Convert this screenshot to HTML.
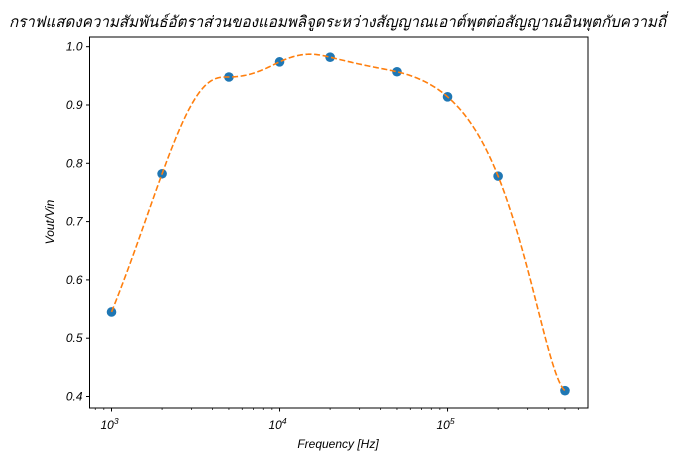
<!DOCTYPE html>
<html><head><meta charset="utf-8"><style>
body{margin:0;background:#fff}
svg text{font-family:"Liberation Sans","DejaVu Sans",sans-serif;font-style:italic}
</style></head><body>
<svg id="c" width="673" height="462" xmlns="http://www.w3.org/2000/svg">
<text x="9" y="27" textLength="657" lengthAdjust="spacingAndGlyphs" font-size="15.5" fill="#000">กราฟแสดงความสัมพันธ์อัตราส่วนของแอมพลิจูดระหว่างสัญญาณเอาต์พุตต่อสัญญาณอินพุตกับความถี่</text>
<g id="ticks"></g>
<g id="marks"></g>
<rect x="89.5" y="37" width="498.5" height="371" fill="none" stroke="#000" stroke-width="1"/>
<text x="338" y="448" text-anchor="middle" font-size="12">Frequency [Hz]</text>
<text transform="translate(54,222) rotate(-90)" text-anchor="middle" font-size="12">Vout/Vin</text>
</svg>
<script>
const freqs=[1e3,2e3,5e3,1e4,2e4,5e4,1e5,2e5,5e5];
const ratios=[0.545,0.782,0.948,0.974,0.982,0.957,0.914,0.778,0.41];
const yTicks=[0.4,0.5,0.6,0.7,0.8,0.9,1.0];
const xDecades=[3,4,5];
const NS='http://www.w3.org/2000/svg';
const L=89.5,R=588,T=37,B=408,xmin=2.869,xmax=5.836,ymin=0.3803,ymax=1.0166;
const sx=v=>L+(Math.log10(v)-xmin)/(xmax-xmin)*(R-L);
const sxl=l=>L+(l-xmin)/(xmax-xmin)*(R-L);
const sy=v=>B-(v-ymin)/(ymax-ymin)*(B-T);
function mk(t,a,p){const e=document.createElementNS(NS,t);for(const k in a)e.setAttribute(k,a[k]);p.appendChild(e);return e;}
const tg=document.getElementById('ticks'),mg=document.getElementById('marks');
yTicks.forEach(v=>{const y=sy(v);
 const l=mk('line',{x1:L-3.5,x2:L,y1:y,y2:y,stroke:'#000'},tg);
 
 
 const t=mk('text',{x:L-7,y:y+4,'text-anchor':'end','font-size':'12'},tg);t.textContent=v.toFixed(1);
 
 
});
for(let d=2;d<=5;d++)for(let m=1;m<10;m++){const l10=d+Math.log10(m);if(l10<xmin||l10>xmax)continue;
 const x=sxl(l10);const len=m==1?3.5:2;
 const l=mk('line',{x1:x,x2:x,y1:B,y2:B+len,stroke:'#000','stroke-width':m==1?1:0.7},tg);
 
 }
xDecades.forEach(d=>{const x=sxl(d);
 const t=mk('text',{x:x-2,y:B+21,'text-anchor':'middle','font-size':'12'},tg);
 t.innerHTML='10<tspan dy="-5" font-size="8.5">'+d+'</tspan>';
 
 });
// not-a-knot cubic spline in linear frequency (scaled)
const X=freqs.map(f=>f/1e3),Y=ratios,n=X.length,h=[];
for(let i=0;i<n-1;i++)h.push(X[i+1]-X[i]);
const A=[],rhs=[];
for(let i=0;i<n;i++){A.push(new Array(n).fill(0));rhs.push(0);}
A[0][0]=h[1];A[0][1]=-(h[0]+h[1]);A[0][2]=h[0];
for(let i=1;i<n-1;i++){A[i][i-1]=h[i-1];A[i][i]=2*(h[i-1]+h[i]);A[i][i+1]=h[i];
 rhs[i]=6*((Y[i+1]-Y[i])/h[i]-(Y[i]-Y[i-1])/h[i-1]);}
A[n-1][n-3]=h[n-2];A[n-1][n-2]=-(h[n-3]+h[n-2]);A[n-1][n-1]=h[n-3];
for(let k=0;k<n;k++){let p=k;for(let i=k+1;i<n;i++)if(Math.abs(A[i][k])>Math.abs(A[p][k]))p=i;
 [A[k],A[p]]=[A[p],A[k]];[rhs[k],rhs[p]]=[rhs[p],rhs[k]];
 for(let i=k+1;i<n;i++){const f=A[i][k]/A[k][k];for(let j=k;j<n;j++)A[i][j]-=f*A[k][j];rhs[i]-=f*rhs[k];}}
const M=new Array(n).fill(0);
for(let i=n-1;i>=0;i--){let s=rhs[i];for(let j=i+1;j<n;j++)s-=A[i][j]*M[j];M[i]=s/A[i][i];}
let d='';
for(let j=0;j<n-1;j++)for(let k=0;k<=60;k++){
 const lx=Math.log10(freqs[j])+(Math.log10(freqs[j+1])-Math.log10(freqs[j]))*k/60;
 const x=Math.pow(10,lx)/1e3,hh=h[j],a=X[j+1]-x,bq=x-X[j];
 const yv=M[j]*a*a*a/(6*hh)+M[j+1]*bq*bq*bq/(6*hh)+(Y[j]/hh-M[j]*hh/6)*a+(Y[j+1]/hh-M[j+1]*hh/6)*bq;
 d+=(d?'L':'M')+sxl(lx).toFixed(2)+','+sy(yv).toFixed(2);}
freqs.forEach((f,i)=>{const p=mk('circle',{cx:sx(f),cy:sy(ratios[i]),r:4.8,fill:'#1f77b4'},mg);
 
 });
const path=mk('path',{d:d,fill:'none',stroke:'#ff7f0e','stroke-width':1.6,'stroke-dasharray':'6,2.6'},mg);


</script>
</body></html>
